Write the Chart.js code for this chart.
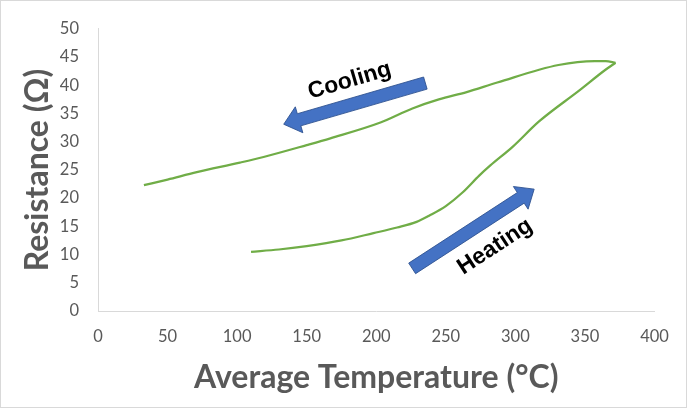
<!DOCTYPE html>
<html><head><meta charset="utf-8">
<script src="https://cdn.jsdelivr.net/npm/chart.js@4.4.1/dist/chart.umd.min.js"></script>
<style>html,body{margin:0;padding:0;background:#fff}#wrap{width:687px;height:408px;position:relative}</style>
</head><body><div id="wrap"><canvas id="c"></canvas></div>
<script>
// Heating branch (temperature °C, resistance Ω)
const heatingT = [110, 130, 150, 175, 198, 215, 229, 238, 250, 262, 274, 282, 298, 317, 346, 365, 372];
const heatingR = [10.5, 10.9, 11.5, 12.5, 13.8, 14.8, 15.8, 16.9, 18.6, 21.0, 24.0, 25.8, 29.1, 33.6, 39.1, 42.8, 44.0];
// Cooling branch
const coolingT = [372, 365, 357, 331, 287, 265, 245, 226, 203, 167, 150, 119, 102, 71, 50, 33];
const coolingR = [44.0, 44.3, 44.3, 43.6, 40.5, 38.8, 37.5, 35.9, 33.4, 30.6, 29.4, 27.3, 26.3, 24.6, 23.3, 22.3];
// Axis ticks
const xTicks = [0, 50, 100, 150, 200, 250, 300, 350, 400];
const yTicks = [0, 5, 10, 15, 20, 25, 30, 35, 40, 45, 50];
// Annotations (arrow tail/tip and label centre, in data units)
const arrowLabels = ["Cooling", "Heating"];
const arrowTailT = [235.3, 225.8];
const arrowTailR = [40.4, 7.55];
const arrowTipT = [133.5, 313.5];
const arrowTipR = [33.1, 21.6];
const labelT = [180.9, 285.4];
const labelR = [40.8, 11.4];

const toPts = (xs, ys) => xs.map((x, i) => ({x: x, y: ys[i]}));

const annotationPlugin = {
  id: 'arrows',
  afterDatasetsDraw(chart) {
    const ctx = chart.ctx, xs = chart.scales.x, ys = chart.scales.y;
    arrowLabels.forEach((lab, i) => {
      const x0 = xs.getPixelForValue(arrowTailT[i]), y0 = ys.getPixelForValue(arrowTailR[i]);
      const x1 = xs.getPixelForValue(arrowTipT[i]), y1 = ys.getPixelForValue(arrowTipR[i]);
      const ang = Math.atan2(y1 - y0, x1 - x0);
      const len = Math.hypot(x1 - x0, y1 - y0);
      const sw = 6.3, hw = 13.5, hl = 16;
      ctx.save();
      ctx.translate(x0, y0);
      ctx.rotate(ang);
      ctx.beginPath();
      ctx.moveTo(0, -sw);
      ctx.lineTo(len - hl, -sw);
      ctx.lineTo(len - hl, -hw);
      ctx.lineTo(len, 0);
      ctx.lineTo(len - hl, hw);
      ctx.lineTo(len - hl, sw);
      ctx.lineTo(0, sw);
      ctx.closePath();
      ctx.fillStyle = '#4472C4';
      ctx.fill();
      ctx.lineWidth = 0.8;
      ctx.strokeStyle = '#2F528F';
      ctx.stroke();
      ctx.restore();
      // label
      const lx = xs.getPixelForValue(labelT[i]), ly = ys.getPixelForValue(labelR[i]);
      let ta = ang;
      if (Math.cos(ta) < 0) ta += Math.PI;
      ctx.save();
      ctx.translate(lx, ly);
      ctx.rotate(ta);
      ctx.font = 'bold 23px "Liberation Sans", Arial, sans-serif';
      ctx.fillStyle = '#000';
      ctx.textAlign = 'center';
      ctx.textBaseline = 'middle';
      ctx.fillText(lab, 0, 0);
      ctx.restore();
    });
  },
  afterDraw(chart) {
    const ctx = chart.ctx;
    ctx.save();
    ctx.strokeStyle = '#D9D9D9';
    ctx.lineWidth = 1;
    ctx.strokeRect(0.5, 0.5, chart.width - 1, chart.height - 1);
    ctx.restore();
  }
};

const lineStyle = {
  showLine: true, borderColor: '#70AD47', backgroundColor: '#70AD47',
  borderWidth: 2.25, pointRadius: 0, cubicInterpolationMode: 'monotone', fill: false
};

new Chart(document.getElementById('c'), {
  type: 'scatter',
  data: {
    datasets: [
      Object.assign({label: 'Heating', data: toPts(heatingT, heatingR)}, lineStyle),
      Object.assign({label: 'Cooling', data: toPts(coolingT, coolingR)}, lineStyle)
    ]
  },
  options: {
    responsive: true, maintainAspectRatio: false, animation: false,
    devicePixelRatio: 1,
    layout: {padding: {left: 0, right: 32.5, top: 17.5, bottom: 0}},
    plugins: {legend: {display: false}, tooltip: {enabled: false}},
    scales: {
      x: {
        type: 'linear', min: 0, max: 400,
        afterBuildTicks: s => { s.ticks = xTicks.map(v => ({value: v})); },
        afterFit: s => { s.height = 97; },
        grid: {display: false, drawTicks: false},
        border: {display: true, color: '#D9D9D9', width: 1},
        ticks: {padding: 16, color: '#595959', font: {family: 'Lato', size: 16.5}, maxRotation: 0, autoSkip: false},
        title: {display: true, text: 'Average Temperature (°C)', color: '#595959',
                font: {family: 'Lato', size: 32, weight: 'bold', lineHeight: 1.2}, padding: {top: 0, bottom: 11}}
      },
      y: {
        type: 'linear', min: 0, max: 50,
        afterBuildTicks: s => { s.ticks = yTicks.map(v => ({value: v})); },
        afterFit: s => { s.width = 98; },
        grid: {display: false, drawTicks: false},
        border: {display: true, color: '#D9D9D9', width: 1},
        ticks: {padding: 19, color: '#595959', font: {family: 'Lato', size: 16.5}, autoSkip: false},
        title: {display: true, text: 'Resistance (Ω)', color: '#595959',
                font: {family: 'Lato', size: 32, weight: 'bold', lineHeight: 1.2}, padding: {top: 18, bottom: 0}}
      }
    }
  },
  plugins: [annotationPlugin]
});
</script></body></html>
